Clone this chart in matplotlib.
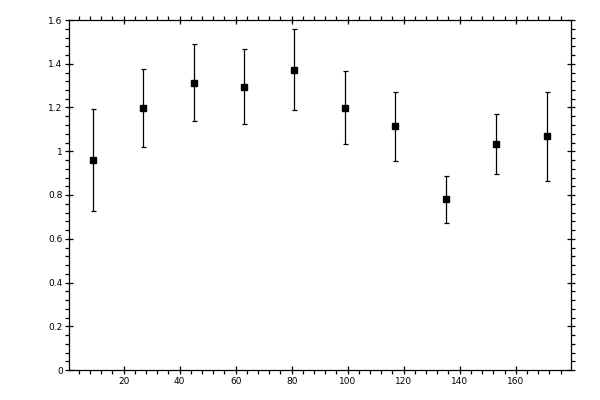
import matplotlib
matplotlib.use("Agg")
import matplotlib.pyplot as plt
from matplotlib.ticker import MultipleLocator, FormatStrFormatter

# data
x = [9, 27, 45, 63, 81, 99, 117, 135, 153, 171]
y = [0.958, 1.196, 1.314, 1.296, 1.373, 1.200, 1.115, 0.780, 1.032, 1.068]
err = [0.233, 0.178, 0.176, 0.172, 0.184, 0.166, 0.158, 0.108, 0.137, 0.205]

fig = plt.figure(figsize=(6, 4), dpi=100)
ax = fig.add_axes([0.1155, 0.075, 0.8355, 0.875])

ax.errorbar(x, y, yerr=err, fmt="s", color="black", markersize=5,
            elinewidth=0.9, capsize=1.8, capthick=0.9)

ax.set_xlim(0.6, 179.6)
ax.set_ylim(0, 1.6)

ax.xaxis.set_major_locator(MultipleLocator(20))
ax.xaxis.set_minor_locator(MultipleLocator(4))
ax.yaxis.set_major_locator(MultipleLocator(0.2))
ax.yaxis.set_minor_locator(MultipleLocator(0.04))

def fmt_y(v, pos):
    s = "%g" % round(v, 2)
    return s
ax.yaxis.set_major_formatter(plt.FuncFormatter(fmt_y))

def fmt_x(v, pos):
    return "" if v < 1 else "%d" % v
ax.xaxis.set_major_formatter(plt.FuncFormatter(fmt_x))

for s in ax.spines.values():
    s.set_linewidth(0.9)

ax.tick_params(which="major", direction="inout", length=5.5, width=0.9,
               top=True, right=True, labelsize=6.5, pad=2)
ax.tick_params(which="minor", direction="out", length=2.8, width=0.9,
               top=True, right=True)

plt.savefig("out.png", dpi=100)
